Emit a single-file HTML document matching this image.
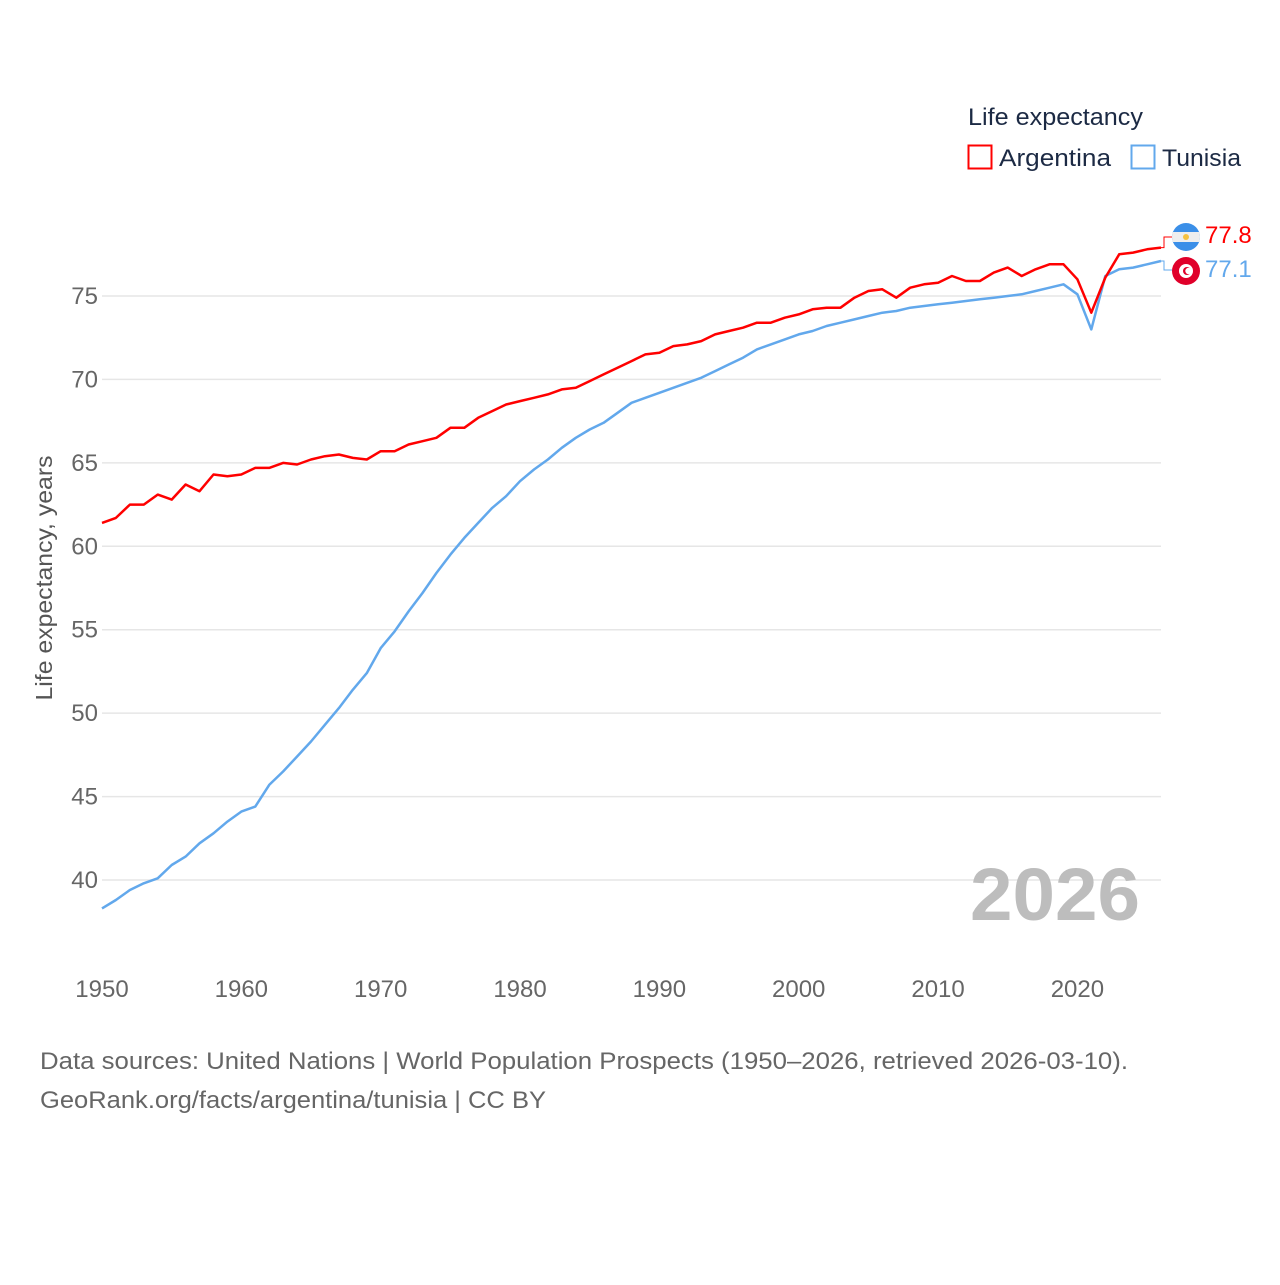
<!DOCTYPE html>
<html><head><meta charset="utf-8"><style>
body{margin:0;background:#fff;}
svg text{font-family:"Liberation Sans",sans-serif;}
</style></head><body>
<svg id="chart" width="1280" height="1280" viewBox="0 0 1280 1280">
<g id="grid"></g>
<g id="yticks"></g>
<g id="xticks"></g>
<text x="52" y="578" transform="rotate(-90 52 578)" text-anchor="middle" font-size="23" fill="#555" textLength="245" lengthAdjust="spacingAndGlyphs">Life expectancy, years</text>
<text x="970" y="920" font-size="74" font-weight="bold" fill="#bdbdbd" textLength="170" lengthAdjust="spacingAndGlyphs">2026</text>
<g id="series"></g>
<text x="968" y="125" font-size="24" fill="#1c2a44" textLength="175" lengthAdjust="spacingAndGlyphs">Life expectancy</text>
<g><rect x="968.5" y="145.5" width="23" height="23" fill="none" stroke="#ff0000" stroke-width="2"/><text x="999" y="166" font-size="24" fill="#1c2a44" textLength="112" lengthAdjust="spacingAndGlyphs">Argentina</text></g>
<g><rect x="1131.5" y="145.5" width="23" height="23" fill="none" stroke="#62a8ec" stroke-width="2"/><text x="1162" y="166" font-size="24" fill="#1c2a44" textLength="79" lengthAdjust="spacingAndGlyphs">Tunisia</text></g>
<g>
<clipPath id="ca"><circle cx="1186" cy="237" r="14"/></clipPath>
<g clip-path="url(#ca)"><rect x="1172" y="223" width="28" height="28" fill="#3b8fe8"/><rect x="1172" y="232" width="28" height="10" fill="#eee"/></g>
<circle cx="1186" cy="237" r="3" fill="#f5c242"/></g>
<g>
<circle cx="1186" cy="271" r="14" fill="#e0002a"/><circle cx="1186" cy="271" r="7" fill="#fff"/><circle cx="1187" cy="271" r="4" fill="#e0002a"/><circle cx="1188.5" cy="271" r="3.2" fill="#fff"/></g>
<text x="1205" y="243" font-size="24" fill="#ff0000">77.8</text>
<text x="1205" y="277" font-size="24" fill="#62a8ec">77.1</text>
<text x="40" y="1069" font-size="24" fill="#666" textLength="1088" lengthAdjust="spacingAndGlyphs">Data sources: United Nations | World Population Prospects (1950–2026, retrieved 2026-03-10).</text>
<text x="40" y="1108" font-size="24" fill="#666" textLength="506" lengthAdjust="spacingAndGlyphs">GeoRank.org/facts/argentina/tunisia | CC BY</text>
</svg>
<script>
const years=[];for(let y=1950;y<=2026;y++)years.push(y);
const argentina=[61.4,61.7,62.5,62.5,63.1,62.8,63.7,63.3,64.3,64.2,64.3,64.7,64.7,65.0,64.9,65.2,65.4,65.5,65.3,65.2,65.7,65.7,66.1,66.3,66.5,67.1,67.1,67.7,68.1,68.5,68.7,68.9,69.1,69.4,69.5,69.9,70.3,70.7,71.1,71.5,71.6,72.0,72.1,72.3,72.7,72.9,73.1,73.4,73.4,73.7,73.9,74.2,74.3,74.3,74.9,75.3,75.4,74.9,75.5,75.7,75.8,76.2,75.9,75.9,76.4,76.7,76.2,76.6,76.9,76.9,76.0,74.0,76.1,77.5,77.6,77.8,77.9];
const tunisia=[38.3,38.8,39.4,39.8,40.1,40.9,41.4,42.2,42.8,43.5,44.1,44.4,45.7,46.5,47.4,48.3,49.3,50.3,51.4,52.4,53.9,54.9,56.1,57.2,58.4,59.5,60.5,61.4,62.3,63.0,63.9,64.6,65.2,65.9,66.5,67.0,67.4,68.0,68.6,68.9,69.2,69.5,69.8,70.1,70.5,70.9,71.3,71.8,72.1,72.4,72.7,72.9,73.2,73.4,73.6,73.8,74.0,74.1,74.3,74.4,74.5,74.6,74.7,74.8,74.9,75.0,75.1,75.3,75.5,75.7,75.1,73.0,76.2,76.6,76.7,76.9,77.1];
const yTicks=[40,45,50,55,60,65,70,75];
const xTicks=[1950,1960,1970,1980,1990,2000,2010,2020];
const X=y=>102+(y-1950)*(1161-102)/76;
const Y=v=>296+(75-v)*(880-296)/35;
const NS="http://www.w3.org/2000/svg";
function mk(t,a,p){const e=document.createElementNS(NS,t);for(const k in a)e.setAttribute(k,a[k]);p.appendChild(e);return e;}
const grid=document.getElementById('grid'),yt=document.getElementById('yticks'),xt=document.getElementById('xticks'),ser=document.getElementById('series');
yTicks.forEach(v=>{
 const l=mk('line',{x1:102,x2:1161,y1:Y(v),y2:Y(v),stroke:'#e6e6e6','stroke-width':1.5},grid);
 
 
 const t=mk('text',{x:98,y:Y(v)+8,'text-anchor':'end','font-size':24,fill:'#666'},yt);t.textContent=v;
 
 
});
xTicks.forEach(v=>{
 const t=mk('text',{x:X(v),y:997,'text-anchor':'middle','font-size':24,fill:'#666'},xt);t.textContent=v;
 
 
});
function line(vals,color,name){
 const d=vals.map((v,i)=>(i?'L':'M')+X(years[i]).toFixed(1)+' '+Y(v).toFixed(1)).join(' ');
 const p=mk('path',{d:d,fill:'none',stroke:color,'stroke-width':2.5,'stroke-linejoin':'round'},ser);
 
 
}
line(tunisia,'#62a8ec','line-tunisia');
line(argentina,'#ff0000','line-argentina');
const la=argentina[argentina.length-1],lt=tunisia[tunisia.length-1];
const c1=mk('path',{d:`M${X(2026)} ${Y(la)} L1164 ${Y(la)} L1164 237 L1172 237`,fill:'none',stroke:'#ff0000','stroke-width':1},ser);


const c2=mk('path',{d:`M${X(2026)} ${Y(lt)} L1164 ${Y(lt)} L1164 270 L1172 270`,fill:'none',stroke:'#62a8ec','stroke-width':1},ser);


</script>
</body></html>
